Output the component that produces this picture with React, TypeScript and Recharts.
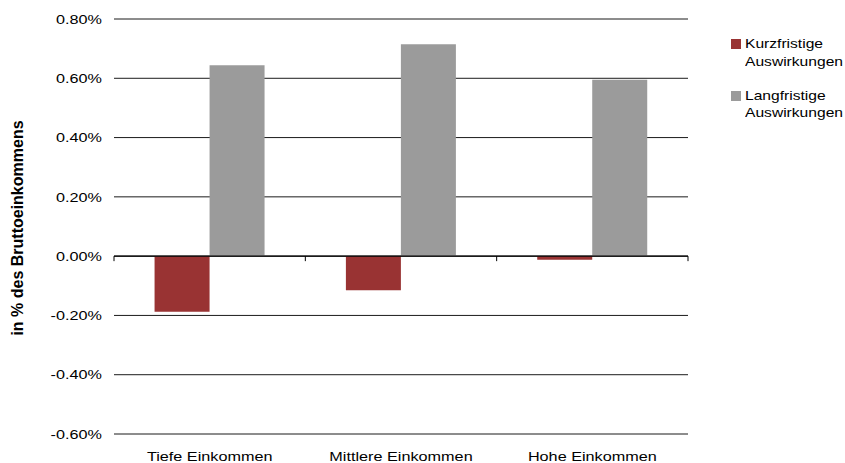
import React from 'react';
import {
  BarChart,
  Bar,
  XAxis,
  YAxis,
  CartesianGrid,
  Legend,
  ReferenceLine,
} from 'recharts';

const groups = ['Tiefe Einkommen', 'Mittlere Einkommen', 'Hohe Einkommen'];
const kurzfristig = [-0.188, -0.115, -0.012];
const langfristig = [0.644, 0.715, 0.595];
const yTicks = [-0.6, -0.4, -0.2, 0, 0.2, 0.4, 0.6, 0.8];

const seriesNames = {
  kurz: 'Kurzfristige Auswirkungen',
  lang: 'Langfristige Auswirkungen',
};
const colors = { kurz: '#993333', lang: '#9b9b9b' };

const data = groups.map((name, i) => ({
  name,
  kurz: kurzfristig[i],
  lang: langfristig[i],
}));

const FONT = '"Liberation Sans", Arial, sans-serif';
const STRETCH = 1.22;

const YTick = (props: any) => {
  const { x, y, payload } = props;
  return (
    <g transform={`translate(${x - 4},${y})`}>
      <text
        transform={`scale(${STRETCH},1)`}
        textAnchor="end"
        dy={4.7}
        fontSize={13.3}
        fontFamily={FONT}
        fill="#000"
      >
        {`${payload.value.toFixed(2)}%`}
      </text>
    </g>
  );
};

const XTick = (props: any) => {
  const { x, y, payload } = props;
  return (
    <g transform={`translate(${x},${y})`}>
      <text
        transform={`scale(${STRETCH},1)`}
        textAnchor="middle"
        dy={19}
        fontSize={13.3}
        fontFamily={FONT}
        fill="#000"
      >
        {payload.value}
      </text>
    </g>
  );
};

// zero line with small ticks between the income groups
const ZeroLine = (props: any) => {
  const { x1, y1, x2 } = props;
  const step = (x2 - x1) / groups.length;
  const marks = Array.from({ length: groups.length + 1 }, (_, i) => x1 + i * step);
  return (
    <g>
      <line x1={x1} y1={y1} x2={x2} y2={y1} stroke="#000" strokeWidth={1.3} />
      {marks.map((mx, i) => (
        <line key={i} x1={mx} y1={y1} x2={mx} y2={y1 + 5} stroke="#000" strokeWidth={1} />
      ))}
    </g>
  );
};

const LegendBox = () => (
  <div style={{ fontFamily: FONT, fontSize: 13, lineHeight: '17.5px', color: '#000' }}>
    {(['kurz', 'lang'] as const).map((key) => {
      const [first, second] = seriesNames[key].split(' ');
      return (
        <div key={key} style={{ display: 'flex', height: 35, marginBottom: 16.7 }}>
          <div
            style={{
              width: 10,
              height: 10,
              marginTop: 4,
              background: colors[key],
              flexShrink: 0,
            }}
          />
          <div
            style={{
              marginLeft: 4,
              transform: `scaleX(1.2)`,
              transformOrigin: 'left top',
              whiteSpace: 'nowrap',
            }}
          >
            <div>{first}</div>
            <div>{second}</div>
          </div>
        </div>
      );
    })}
  </div>
);

const AxisTitle = () => (
  <text
    transform="translate(23.3,228) rotate(-90)"
    textAnchor="middle"
    fontSize={16}
    fontWeight="bold"
    fontFamily={FONT}
    fill="#000"
  >
    in % des Bruttoeinkommens
  </text>
);

const App: React.FC = () => {
  return (
    <div style={{ position: 'absolute', left: 0, top: 0, background: '#fff' }}>
      <BarChart
        width={845}
        height={463}
        data={data}
        margin={{ top: 19, right: 157, bottom: 0, left: 14 }}
        barCategoryGap="21.2%"
        barGap={0}
      >
        <CartesianGrid vertical={false} stroke="#000" strokeWidth={0.9} />
        <XAxis
          dataKey="name"
          axisLine={false}
          tickLine={false}
          height={29}
          tick={<XTick />}
          interval={0}
        />
        <YAxis
          domain={[-0.6, 0.8]}
          ticks={yTicks}
          axisLine={false}
          tickLine={false}
          width={100}
          tick={<YTick />}
          label={<AxisTitle />}
        />
        <Legend
          layout="vertical"
          align="center"
          verticalAlign="middle"
          content={<LegendBox />}
          wrapperStyle={{ position: 'absolute', left: 731, top: 35, width: 114 }}
        />
        <Bar dataKey="kurz" name={seriesNames.kurz} fill={colors.kurz} isAnimationActive={false} />
        <Bar dataKey="lang" name={seriesNames.lang} fill={colors.lang} isAnimationActive={false} />
        <ReferenceLine y={0} shape={<ZeroLine />} />
      </BarChart>
    </div>
  );
};

export default App;
